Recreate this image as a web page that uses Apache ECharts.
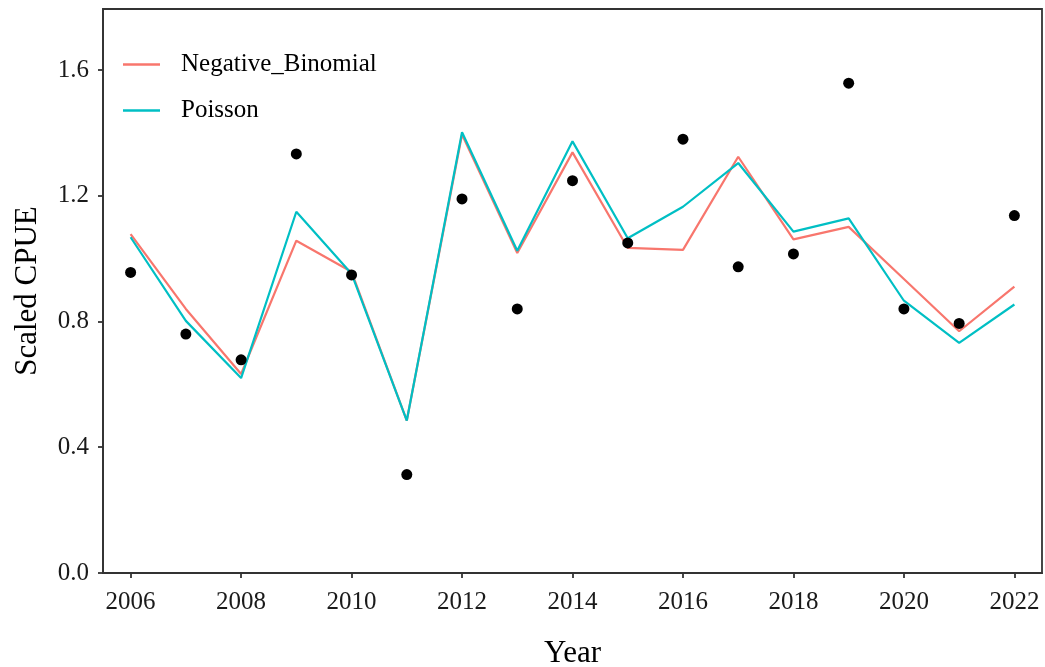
<!DOCTYPE html>
<html>
<head>
<meta charset="utf-8">
<script src="https://cdn.jsdelivr.net/npm/echarts@6/dist/echarts.min.js"></script>
<style>
html,body{margin:0;padding:0;background:#fff;}
#chart{width:1045px;height:667px;}
</style>
</head>
<body>
<div id="chart"></div>
<script>
const years = [2006,2007,2008,2009,2010,2011,2012,2013,2014,2015,2016,2017,2018,2019,2020,2021,2022];
const observed = [0.956,0.760,0.678,1.333,0.948,0.313,1.190,0.840,1.248,1.050,1.380,0.974,1.015,1.558,0.840,0.794,1.137];
const negBinomial = [1.078,0.840,0.633,1.057,0.958,0.485,1.395,1.018,1.338,1.034,1.028,1.324,1.061,1.101,0.935,0.769,0.911];
const poisson = [1.068,0.802,0.620,1.149,0.952,0.485,1.402,1.025,1.373,1.065,1.165,1.304,1.086,1.128,0.866,0.732,0.854];
const xTicks = [2006,2008,2010,2012,2014,2016,2018,2020,2022];
const yTicks = [0,0.4,0.8,1.2,1.6];

const pair = arr => years.map((y,i)=>[y,arr[i]]);
const font = 'Liberation Serif, DejaVu Serif, serif';
const axisCol = '#333333';

const chart = echarts.init(document.getElementById('chart'));
chart.setOption({
  animation:false,
  backgroundColor:'#ffffff',
  textStyle:{fontFamily:font},
  grid:{left:103,right:3,top:9,bottom:94,show:true,borderColor:axisCol,borderWidth:1.8,backgroundColor:'transparent',
        containLabel:false,outerBoundsMode:'none'},
  legend:{
    orient:'vertical',left:118,top:47,itemWidth:37,itemHeight:2.5,itemGap:21,
    icon:'rect',
    textStyle:{fontFamily:font,fontSize:25,color:'#000',padding:[0,0,0,16]},
    data:[{name:'Negative_Binomial'},{name:'Poisson'}]
  },
  xAxis:{
    type:'value',min:2005.5,max:2022.5,
    name:'Year',nameLocation:'middle',nameGap:65,
    nameTextStyle:{fontFamily:font,fontSize:31,color:'#000'},
    axisLine:{show:true,lineStyle:{color:axisCol,width:1.8}},
    axisTick:{show:true,length:5,customValues:xTicks,lineStyle:{color:axisCol,width:1.8}},
    axisLabel:{customValues:xTicks,fontFamily:font,fontSize:25,color:'#1a1a1a',margin:17,formatter:v=>String(v)},
    splitLine:{show:false}
  },
  yAxis:{
    type:'value',min:0,max:1.794,
    name:'Scaled CPUE',nameLocation:'middle',nameGap:60,nameRotate:90,
    nameTextStyle:{fontFamily:font,fontSize:31,color:'#000'},
    axisLine:{show:true,lineStyle:{color:axisCol,width:1.8}},
    axisTick:{show:true,length:5,customValues:yTicks,lineStyle:{color:axisCol,width:1.8}},
    axisLabel:{customValues:yTicks,fontFamily:font,fontSize:25,color:'#1a1a1a',margin:14,formatter:v=>v.toFixed(1)},
    splitLine:{show:false}
  },
  series:[
    {name:'Negative_Binomial',type:'line',data:pair(negBinomial),showSymbol:false,symbol:'none',
     lineStyle:{color:'#F8766D',width:2.2},itemStyle:{color:'#F8766D'},z:3},
    {name:'Poisson',type:'line',data:pair(poisson),showSymbol:false,symbol:'none',
     lineStyle:{color:'#00BFC4',width:2.2},itemStyle:{color:'#00BFC4'},z:4},
    {name:'Observed',type:'scatter',data:pair(observed),symbol:'circle',symbolSize:11,
     itemStyle:{color:'#000',opacity:1},z:5}
  ]
});
</script>
</body>
</html>
